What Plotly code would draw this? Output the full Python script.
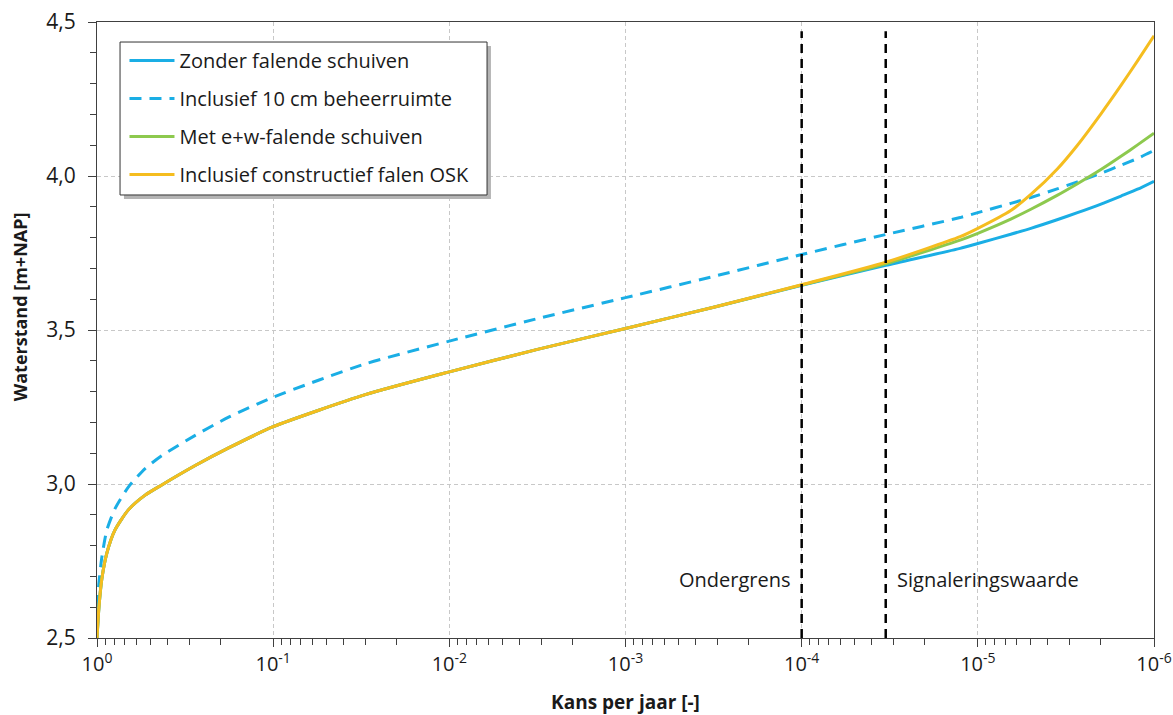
import math
import plotly.graph_objects as go

# Exceedance probability per year
kans = [1.0, 0.975, 0.94, 0.88, 0.79, 0.664, 0.533, 0.429, 0.277, 0.179, 0.1,
        0.03, 0.01, 3.16e-3, 1e-3, 3.16e-4, 1e-4, 3.33e-5, 1.26e-5, 1e-5,
        6.5e-6, 5e-6, 3.55e-6, 2.72e-6, 2e-6, 1.54e-6, 1.24e-6, 1e-6]

zonder = [2.500, 2.600, 2.690, 2.775, 2.851, 2.916, 2.964, 2.997, 3.060, 3.117, 3.186,
          3.290, 3.364, 3.437, 3.505, 3.574, 3.645, 3.710, 3.765, 3.781,
          3.811, 3.830, 3.858, 3.881, 3.909, 3.935, 3.957, 3.983]
beheer = [2.600, 2.680, 2.760, 2.850, 2.920, 2.990, 3.050, 3.092, 3.158, 3.217, 3.282,
          3.390, 3.464, 3.537, 3.605, 3.674, 3.745, 3.810, 3.865, 3.881,
          3.911, 3.930, 3.958, 3.981, 4.009, 4.035, 4.057, 4.083]
ew_falend = [2.500, 2.600, 2.690, 2.775, 2.851, 2.916, 2.964, 2.997, 3.060, 3.117, 3.186,
             3.290, 3.364, 3.437, 3.505, 3.574, 3.646, 3.715, 3.792, 3.814,
             3.860, 3.892, 3.937, 3.975, 4.021, 4.064, 4.101, 4.139]
osk = [2.500, 2.600, 2.690, 2.775, 2.851, 2.916, 2.964, 2.997, 3.060, 3.117, 3.186,
       3.290, 3.364, 3.437, 3.505, 3.574, 3.647, 3.720, 3.803, 3.830,
       3.888, 3.940, 4.022, 4.100, 4.202, 4.294, 4.374, 4.455]

normen = [1e-4, 1 / 30000]
norm_labels = ["Ondergrens", "Signaleringswaarde"]

xtick_vals = [1, 1e-1, 1e-2, 1e-3, 1e-4, 1e-5, 1e-6]
xtick_text = ["10<sup>0</sup>", "10<sup>-1</sup>", "10<sup>-2</sup>", "10<sup>-3</sup>",
              "10<sup>-4</sup>", "10<sup>-5</sup>", "10<sup>-6</sup>"]

BLUE = "#1aaee5"
GREEN = "#8dc94e"
YELLOW = "#f5bd1f"
FONT = "Open Sans"
TXT = "#1a1a1a"
AX = "#404040"

fig = go.Figure()
series = [
    ("Zonder falende schuiven", zonder, dict(color=BLUE, width=3)),
    ("Inclusief 10 cm beheerruimte", beheer, dict(color=BLUE, width=3, dash="12px,8px")),
    ("Met e+w-falende schuiven", ew_falend, dict(color=GREEN, width=3)),
    ("Inclusief constructief falen OSK", osk, dict(color=YELLOW, width=3)),
]
for i, (nm, vals, ln) in enumerate(series):
    ln = dict(ln, shape="spline", smoothing=0.6)
    fig.add_trace(go.Scatter(x=kans, y=vals, mode="lines", name=nm, line=ln,
                             legendgroup=f"g{i}"))

for xv in normen:
    fig.add_trace(go.Scatter(x=[xv, xv], y=[2.5, 4.47], mode="lines", showlegend=False,
                             hoverinfo="skip", line=dict(color="black", width=2.5, dash="9px,6px")))

fig.add_annotation(x=math.log10(normen[0]), y=2.69, xref="x", yref="y", text=norm_labels[0],
                   showarrow=False, xanchor="right", xshift=-9,
                   font=dict(family=FONT, size=20, color=TXT))
fig.add_annotation(x=math.log10(normen[1]), y=2.69, xref="x", yref="y", text=norm_labels[1],
                   showarrow=False, xanchor="left", xshift=9,
                   font=dict(family=FONT, size=20, color=TXT))

# y-axis title (placed as text so its vertical position matches)
fig.add_annotation(x=0, y=0.537, xref="paper", yref="paper", text="<b>Waterstand [m+NAP]</b>",
                   textangle=-90, showarrow=False, xanchor="center", yanchor="middle", xshift=-77,
                   font=dict(family=FONT, size=18, color=TXT))

minor_x = [m * 10 ** e for e in range(-6, 0) for m in range(2, 10)]

fig.update_xaxes(type="log", range=[0, -6], autorange=False, automargin=False,
                 tickvals=xtick_vals, ticktext=xtick_text,
                 ticks="outside", ticklen=8, tickcolor=AX,
                 showline=True, linecolor=AX, linewidth=1.2, mirror=True,
                 showgrid=True, gridcolor="#c8c8c8", griddash="4px,3px", gridwidth=1,
                 minor=dict(tickvals=minor_x, ticks="outside", ticklen=6, tickcolor=AX, showgrid=False),
                 tickfont=dict(family=FONT, size=20, color=TXT),
                 title=dict(text="<b>Kans per jaar [-]</b>", font=dict(family=FONT, size=19, color=TXT),
                            standoff=28),
                 zeroline=False)
fig.update_yaxes(range=[2.5, 4.5], autorange=False, dtick=0.5, tickformat=".1f", automargin=False,
                 ticks="outside", ticklen=8, tickcolor=AX, ticklabelstandoff=8,
                 showline=True, linecolor=AX, linewidth=1.2, mirror=True,
                 showgrid=True, gridcolor="#c8c8c8", griddash="4px,3px", gridwidth=1,
                 minor=dict(dtick=0.1, ticks="outside", ticklen=6, tickcolor=AX, showgrid=False),
                 tickfont=dict(family=FONT, size=21, color=TXT),
                 zeroline=False)

# legend frame with drop shadow (paper coords of the plot area)
fig.add_shape(type="rect", xref="paper", yref="paper", layer="above",
              x0=0.0255, x1=0.3727, y0=0.7127, y1=0.961,
              fillcolor="#b4b4b4", line=dict(width=0))
fig.add_shape(type="rect", xref="paper", yref="paper", layer="above",
              x0=0.0218, x1=0.369, y0=0.7192, y1=0.9675,
              fillcolor="white", line=dict(color="#333333", width=1))

fig.update_layout(
    width=1173, height=715,
    margin=dict(l=97, r=19, t=22, b=77),
    paper_bgcolor="white", plot_bgcolor="white",
    separators=", ",
    font=dict(family=FONT, color=TXT),
    legend=dict(x=0.026, y=0.969, xanchor="left", yanchor="top",
                bgcolor="rgba(0,0,0,0)", borderwidth=0,
                font=dict(family=FONT, size=20, color=TXT),
                itemwidth=45, traceorder="grouped", tracegroupgap=9),
)

fig.write_html("out.html", config={"displayModeBar": False},
               post_script="document.body.style.margin='0';document.body.style.overflow='hidden';")
